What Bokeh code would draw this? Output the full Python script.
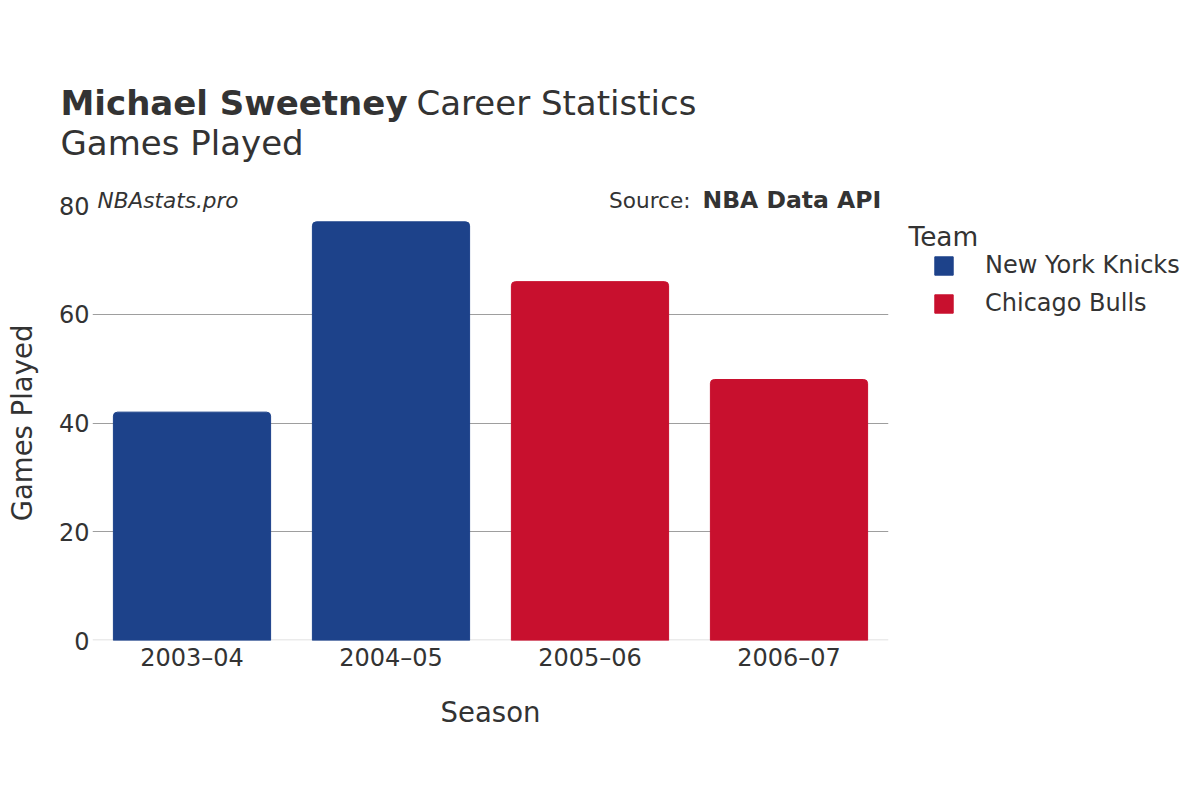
from bokeh.plotting import figure
from bokeh.models import (FactorRange, Range1d, Label, Legend, LegendItem, Span,
                          ColumnDataSource, FixedTicker, GridBox)
from bokeh.embed import file_html
from bokeh.resources import INLINE

# ---- data ----
seasons = ["2003–04", "2004–05", "2005–06", "2006–07"]
games = [42, 77, 66, 48]
teams = ["New York Knicks", "New York Knicks", "Chicago Bulls", "Chicago Bulls"]
team_order = ["New York Knicks", "Chicago Bulls"]
team_colors = {"New York Knicks": "#1D428A", "Chicago Bulls": "#C8102E"}
y_ticks = [0, 20, 40, 60, 80]

FONT = "DejaVu Sans"
TXT = "#333333"
W, H = 1184, 784

# ---------------- main chart (frame = plot area) ----------------
p = figure(width=W, height=H,
           x_range=FactorRange(*seasons), y_range=Range1d(0, 80),
           output_backend="svg", toolbar_location=None,
           min_border_left=92, min_border_right=W - 888,
           min_border_top=205, min_border_bottom=H - 640,
           frame_align=False)
p.outline_line_color = None
p.background_fill_color = "white"
p.border_fill_color = "white"

p.xgrid.grid_line_color = None
p.ygrid.grid_line_color = "#9e9e9e"
p.ygrid.grid_line_width = 1
p.yaxis.ticker = FixedTicker(ticks=y_ticks)

p.add_layout(Span(location=0, dimension="width", line_color="#ebebeb",
                  line_width=3, level="underlay"))

for ax in (p.xaxis[0], p.yaxis[0]):
    ax.axis_line_color = None
    ax.major_tick_line_color = None
    ax.minor_tick_line_color = None
    ax.major_tick_out = 0
    ax.major_tick_in = 0
    ax.major_label_text_font = FONT
    ax.major_label_text_font_size = "24px"
    ax.major_label_text_color = TXT
    ax.axis_label_text_font = FONT
    ax.axis_label_text_font_size = "27.5px"
    ax.axis_label_text_font_style = "normal"
    ax.axis_label_text_color = TXT

p.xaxis.axis_label = "Season"
p.xaxis.major_label_standoff = 3
p.xaxis.axis_label_standoff = 21
p.yaxis.axis_label = "Games Played"
p.yaxis.major_label_standoff = 3
p.yaxis.axis_label_standoff = 18

for t in team_order:
    idx = [i for i, tm in enumerate(teams) if tm == t]
    src = ColumnDataSource(dict(season=[seasons[i] for i in idx],
                                games=[games[i] for i in idx]))
    p.vbar(x="season", top="games", width=0.79, source=src,
           fill_color=team_colors[t], line_color=team_colors[t],
           border_radius=(4, 4, 0, 0))

# ---------------- overlay (titles, notes, legend) ----------------
h = figure(width=W, height=H, x_range=Range1d(0, W), y_range=Range1d(H, 0),
           output_backend="svg", toolbar_location=None,
           x_axis_location=None, y_axis_location=None,
           min_border=0, min_border_left=0, min_border_right=0,
           min_border_top=0, min_border_bottom=0, frame_align=False)
h.outline_line_color = None
h.grid.visible = False
h.background_fill_alpha = 0
h.border_fill_alpha = 0


def lab(text, x, y, size, style="normal", align="left"):
    h.add_layout(Label(x=x, y=y, text=text, text_font=FONT, text_font_size=size,
                       text_font_style=style, text_color=TXT,
                       text_align=align, text_baseline="alphabetic"))


lab("Michael Sweetney", 60, 102, "34px", "bold")
lab("Career Statistics", 416, 102, "34px")
lab("Games Played", 60, 142.5, "34px")
lab("NBAstats.pro", 97, 199.5, "21.6px", "italic")
lab("Source:", 690, 199.5, "21.6px", align="right")
lab("NBA Data API", 702, 199.5, "23.5px", "bold")
lab("Team", 908, 236, "26.4px")

# legend swatches: renderers without visible marks (NaN data), one per team
items = []
for t in team_order:
    r = h.vbar(x=[float("nan")], top=[float("nan")], width=1,
               fill_color=team_colors[t], line_color=team_colors[t],
               border_radius=5)
    items.append(LegendItem(label=t, renderers=[r]))

legend = Legend(items=items, location=(932, H - 317), padding=0, margin=0,
                spacing=10, glyph_width=23, glyph_height=23, label_height=23,
                label_standoff=30, label_text_font=FONT,
                label_text_font_size="24px", label_text_color=TXT,
                border_line_color=None, background_fill_alpha=0)
h.add_layout(legend)

layout = GridBox(children=[(p, 0, 0), (h, 0, 0)])
open("out.html", "w").write(file_html(layout, INLINE))
